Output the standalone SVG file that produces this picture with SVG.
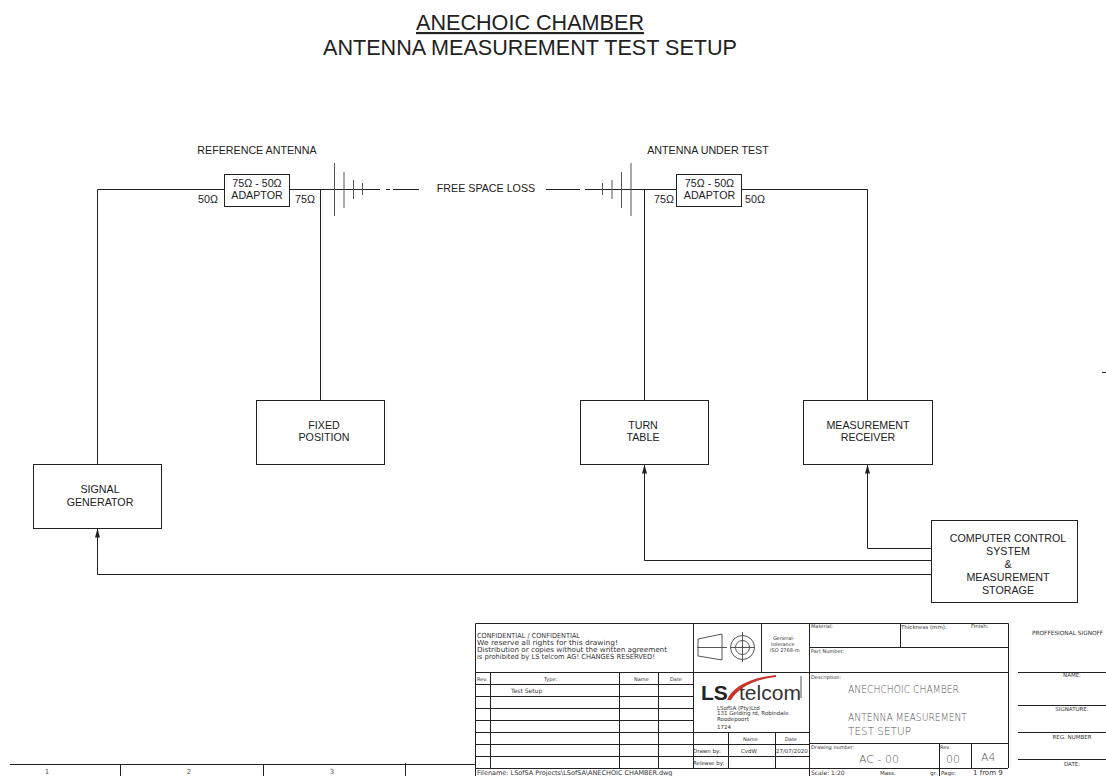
<svg xmlns="http://www.w3.org/2000/svg" width="1106" height="776" viewBox="0 0 1106 776">
<style>
.n{fill:#fff;stroke:#222;stroke-width:1}
.c{fill:none;stroke:#222;stroke-width:1}
.g{fill:none;stroke:#555;stroke-width:1}
.tb{fill:none;stroke:#222;stroke-width:1}
text{font-family:"Liberation Sans",Arial,sans-serif;fill:#222}
.l{font-size:10.7px;text-anchor:middle}
.h{font-size:21.6px;text-anchor:middle}
.s{font-family:"DejaVu Sans",sans-serif;font-size:6px;fill:#333}
.m{font-family:"DejaVu Sans",sans-serif;font-size:7px;fill:#555;text-anchor:middle}
.d{font-family:"DejaVu Sans",sans-serif;font-size:11px;fill:#555;font-weight:200}
</style>
<defs>
<marker id="a" markerWidth="10" markerHeight="6" refX="9" refY="3" orient="auto" markerUnits="userSpaceOnUse" viewBox="0 0 10 6"><path d="M0 0.5L9 3L0 5.500Z" fill="#222"/></marker>
</defs>
<rect width="1106" height="776" fill="#fff"/>
<g id="title">
<text class="h" x="530" y="30" text-decoration="underline">ANECHOIC CHAMBER</text>
<text class="h" x="530" y="55">ANTENNA MEASUREMENT TEST SETUP</text>
</g>
<g id="connectors">
<path class="c" d="M224 189.500H97.500V464"/>
<path class="c" d="M289 189.500H380M320.500 189.500V400"/>
<path class="c" d="M386 189.500H390M393 189.500H419"/>
<path class="c" d="M546 189.500H580"/>
<path class="c" d="M585 189.500H677M644.500 189.500V400"/>
<path class="c" d="M742 189.500H867.500V400"/>
<path class="g" d="M334.500 163V216M344 172V208M353.500 180V199M362.500 183V195"/>
<path class="g" d="M602.500 183V195M612 180V199M621.500 172V208M631 163V216"/>
<path class="c" d="M931 560.500H644.500V464.500" marker-end="url(#a)"/>
<path class="c" d="M931 548.500H867.500V464.500" marker-end="url(#a)"/>
<path class="c" d="M931 574.500H97.500V528.500" marker-end="url(#a)"/>
<path class="c" d="M1102 372.500H1106"/>
</g>
<g id="adaptor-ref"><rect class="n" x="224.500" y="174.500" width="65" height="32"/><text class="l" x="257" y="187">75Ω - 50Ω</text><text class="l" x="257" y="199">ADAPTOR</text></g>
<g id="adaptor-aut"><rect class="n" x="676.500" y="174.500" width="65" height="32"/><text class="l" x="709.500" y="187">75Ω - 50Ω</text><text class="l" x="709.500" y="199">ADAPTOR</text></g>
<g id="labels">
<text class="l" x="257" y="154">REFERENCE ANTENNA</text>
<text class="l" x="708" y="154">ANTENNA UNDER TEST</text>
<text class="l" x="208" y="203">50Ω</text>
<text class="l" x="305" y="203">75Ω</text>
<text class="l" x="664" y="203">75Ω</text>
<text class="l" x="755" y="203">50Ω</text>
<text class="l" x="486" y="192">FREE SPACE LOSS</text>
</g>
<g id="fixed-position"><rect class="n" x="256.500" y="400.500" width="128" height="64"/><text class="l" x="324" y="429">FIXED</text><text class="l" x="324" y="441">POSITION</text></g>
<g id="turn-table"><rect class="n" x="580.500" y="400.500" width="128" height="64"/><text class="l" x="643" y="429">TURN</text><text class="l" x="643" y="441">TABLE</text></g>
<g id="measurement-receiver"><rect class="n" x="803.500" y="400.500" width="129" height="64"/><text class="l" x="868" y="429">MEASUREMENT</text><text class="l" x="868" y="441">RECEIVER</text></g>
<g id="signal-generator"><rect class="n" x="33.500" y="464.500" width="128" height="64"/><text class="l" x="100" y="493">SIGNAL</text><text class="l" x="100" y="506">GENERATOR</text></g>
<g id="computer-control"><rect class="n" x="931.500" y="520.500" width="146" height="82"/>
<text class="l" x="1008" y="541.500">COMPUTER CONTROL</text><text class="l" x="1008" y="554.500">SYSTEM</text><text class="l" x="1008" y="567.500">&amp;</text><text class="l" x="1008" y="580.500">MEASUREMENT</text><text class="l" x="1008" y="593.500">STORAGE</text></g>
<g id="ruler">
<path class="tb" d="M10 764.500H475M120.500 764V776M263.500 764V776M405.500 763V776"/>
<text class="m" x="47" y="774">1</text><text class="m" x="189" y="774">2</text><text class="m" x="332" y="774">3</text>
</g>
<g id="title-block">
<path class="tb" d="M475.500 623.500H1008.500V768M475.500 623.500V776M693.500 623.500V768M761.500 623.500V672M809.500 623.500V776M900.500 623.500V647M475 672.500H1008"/>
<path class="tb" d="M809 647.500H1008M475 684.500H693M475 696.500H693M475 708.500H693M475 720.500H693M475 732.500H809M475 744.500H809M475 756.500H809M475 768.500H1008M809 743.500H1008M939.500 743.500V776M971.500 743.500V768"/>
<path class="tb" d="M490.500 672V768M619.500 672V768M658.500 672V768M728.500 732V768M775.500 732V768"/>
<path class="tb" d="M1018 672.500H1106M1018 705.500H1106M1018 732.500H1106M1018 759.500H1106"/>
<path class="g" d="M697 647.500H727M698 639V656L722 660V634ZM730 647.500H755M742.500 632V662"/>
<circle class="g" cx="742.500" cy="647.500" r="12"/><circle class="g" cx="742.500" cy="647.500" r="7"/>
<text class="s" style="font-size:7px" x="477" y="637.500" textLength="103" lengthAdjust="spacingAndGlyphs">CONFIDENTIAL / CONFIDENTIAL</text>
<text class="s" style="font-size:7px" x="477" y="645" textLength="141" lengthAdjust="spacingAndGlyphs">We reserve all rights for this drawing!</text>
<text class="s" style="font-size:7px" x="477" y="652" textLength="190" lengthAdjust="spacingAndGlyphs">Distribution or copies without the written agreement</text>
<text class="s" style="font-size:7px" x="477" y="659" textLength="178" lengthAdjust="spacingAndGlyphs">is prohibited by LS telcom AG! CHANGES RESERVED!</text>
<text class="s" x="773" y="640" style="font-size:5px">General-</text><text class="s" x="771" y="646" style="font-size:5px">tolerance</text><text class="s" x="770" y="652" style="font-size:5px">ISO 2768-m</text>
<text class="s" x="477" y="681" style="font-size:5px">Rev.</text><text class="s" x="544" y="681" style="font-size:5px">Type:</text><text class="s" x="634" y="681" style="font-size:5px">Name</text><text class="s" x="670" y="681" style="font-size:5px">Date</text>
<text class="s" x="511" y="693">Test Setup</text>
<text x="701" y="700" style="font-size:21px;font-weight:bold;fill:#222">LS</text>
<text x="739" y="700" style="font-size:21px;fill:#333" textLength="62" lengthAdjust="spacingAndGlyphs">telcom</text>
<path d="M727 700C732 688 748 678 776 675V677C754 679 738 688 731 700Z" fill="#c8342c"/>
<path d="M801 676V698" class="g"/>
<text class="s" x="717" y="709.500" style="font-size:5.500px">LSofSA (Pty)Ltd</text><text class="s" x="717" y="715" style="font-size:5.500px">131 Gelding rd, Robindale</text><text class="s" x="717" y="721" style="font-size:5.500px">Roodepoort</text><text class="s" x="717" y="729" style="font-size:5.500px">1724</text>
<text class="s" x="743" y="741" style="font-size:5px">Name</text><text class="s" x="785" y="741" style="font-size:5px">Date</text>
<text class="s" x="693" y="753" style="font-size:5.500px">Drawn by:</text><text class="s" x="741" y="753" style="font-size:5.500px">CvdW</text><text class="s" x="776" y="753" style="font-size:5.500px">27/07/2020</text>
<text class="s" x="693" y="765" style="font-size:5.500px">Release by:</text>
<text class="s" x="477" y="775" style="font-size:6.500px">Filename: LSofSA Projects\LSofSA\ANECHOIC CHAMBER.dwg</text>
<text class="s" x="811" y="628" style="font-size:5px">Material:</text><text class="s" x="901" y="629" style="font-size:5.500px">Thickness (mm):</text><text class="s" x="971" y="628" style="font-size:5.500px">Finish:</text>
<text class="s" x="811" y="653" style="font-size:5px">Part Number:</text><text class="s" x="811" y="679" style="font-size:5px">Description:</text>
<text class="d" x="848" y="693" textLength="111" lengthAdjust="spacingAndGlyphs">ANECHCHOIC CHAMBER</text>
<text class="d" x="848" y="721" textLength="119" lengthAdjust="spacingAndGlyphs">ANTENNA MEASUREMENT</text>
<text class="d" x="848" y="735" textLength="63" lengthAdjust="spacingAndGlyphs">TEST SETUP</text>
<text class="s" x="811" y="749" style="font-size:5px">Drawing number:</text>
<text class="d" x="859" y="763">AC - 00</text>
<text class="s" x="940" y="749" style="font-size:5px">Rev.</text><text class="d" x="946" y="763">00</text><text class="d" x="981" y="761">A4</text>
<text class="s" x="811" y="775" style="font-size:6px">Scale: 1:20</text><text class="s" x="880" y="775" style="font-size:5.500px">Mass:</text><text class="s" x="930" y="775" style="font-size:5.500px">gr.</text><text class="s" x="941" y="775" style="font-size:5.500px">Page:</text><text class="s" x="973" y="775" style="font-size:7px">1 from 9</text>
<text class="s" x="1032" y="635" style="font-size:5.800px">PROFFESIONAL SIGNOFF</text>
<text class="s" x="1072" y="677" style="font-size:5.500px;text-anchor:middle">NAME:</text>
<text class="s" x="1072" y="711" style="font-size:5.500px;text-anchor:middle">SIGNATURE:</text>
<text class="s" x="1072" y="739" style="font-size:5.500px;text-anchor:middle">REG. NUMBER</text>
<text class="s" x="1072" y="765.500" style="font-size:5.500px;text-anchor:middle">DATE:</text>
</g>
</svg>
